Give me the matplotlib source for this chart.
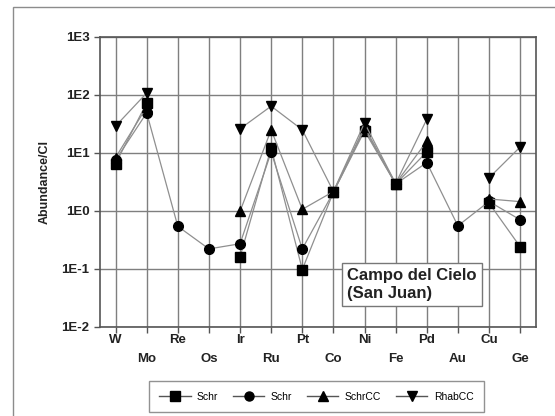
import numpy as np
import matplotlib.pyplot as plt
from matplotlib.patches import Rectangle

plt.rcParams["font.family"] = ["Liberation Sans", "DejaVu Sans"]

elements = ["W", "Mo", "Re", "Os", "Ir", "Ru", "Pt", "Co", "Ni", "Fe", "Pd", "Au", "Cu", "Ge"]
nan = np.nan
schr_sq = [6.5, 73, nan, nan, 0.16, 12.2, 0.097, 2.1, 24, 2.9, 10.4, nan, 1.36, 0.24]
schr_ci = [7.5, 49, 0.54, 0.22, 0.27, 10.3, 0.22, 2.1, 26, 2.9, 6.8, 0.55, 1.45, 0.70]
schr_cc = [8.3, 62, nan, nan, 0.98, 25, 1.06, 2.15, 28, 2.95, 15.8, nan, 1.6, 1.44]
rhab_cc = [29, 108, nan, nan, 26, 64, 25, 2.15, 33, 2.95, 38, nan, 3.7, 12.6]

series = [
    ("Schr", schr_sq, "s"),
    ("Schr", schr_ci, "o"),
    ("SchrCC", schr_cc, "^"),
    ("RhabCC", rhab_cc, "v"),
]

fig = plt.figure(figsize=(5.55, 4.16), dpi=100)
ax = fig.add_axes([0.1802, 0.2147, 0.785, 0.6964])

# outer chart border (cut off at the bottom/right like the original)
fig.patches.append(Rectangle((13 / 555, -0.1), 1.2, (416 - 7) / 416 + 0.1,
                             transform=fig.transFigure, fill=False,
                             edgecolor="#8c8c8c", linewidth=1))

x = np.arange(len(elements))
handles = []
for name, vals, mk in series:
    ln, = ax.plot(x, vals, color="#8f8f8f", linewidth=0.9, marker=mk,
                  markersize=7, markerfacecolor="black", markeredgecolor="black")
    handles.append((ln, name))

ax.set_yscale("log")
ax.set_ylim(1e-2, 1e3)
ax.set_xlim(-0.5, len(elements) - 0.5)
ax.set_yticks([1e-2, 1e-1, 1e0, 1e1, 1e2, 1e3])
ax.set_yticklabels(["1E-2", "1E-1", "1E0", "1E1", "1E2", "1E3"],
                   fontweight="bold", fontsize=9.5, color="#222222")
ax.minorticks_off()
ax.set_xticks(x)
ax.set_xticklabels([])
ax.tick_params(axis="both", direction="out", length=4, color="#555555", width=1)

for i, el in enumerate(elements):
    dy = -0.047 if i % 2 == 0 else -0.11
    ax.text(i, dy, el, transform=ax.get_xaxis_transform(), ha="center", va="center",
            fontsize=9.5, fontweight="bold", color="#222222")

ax.grid(True, color="#7f7f7f", linewidth=1)
ax.set_axisbelow(True)
for s in ax.spines.values():
    s.set_color("#555555")
    s.set_linewidth(1.2)

ax.set_ylabel("Abundance/CI", fontweight="bold", fontsize=9, labelpad=8, color="#222222")

ax.text(0.568, 0.145, "Campo del Cielo\n(San Juan)", transform=ax.transAxes,
        fontsize=12, fontweight="bold", ha="left", va="center", linespacing=1.25,
        color="#222222",
        bbox=dict(boxstyle="square,pad=0.3", facecolor="white", edgecolor="#777777"))

leg_handles = []
for ln, name in handles:
    h, = ax.plot([], [], color="#555555", linewidth=1, marker=ln.get_marker(),
                 markersize=6.5, markerfacecolor="black", markeredgecolor="black")
    leg_handles.append(h)
leg = fig.legend(leg_handles, [n for _, n in handles], loc="center",
                 bbox_to_anchor=(0.57, 0.0465), ncol=4, fontsize=7.5,
                 frameon=True, fancybox=False, edgecolor="#777777",
                 handlelength=3.0, columnspacing=1.45, handletextpad=0.6,
                 borderpad=1.0)
leg.get_frame().set_linewidth(1)

fig.savefig("out.png", dpi=100)
